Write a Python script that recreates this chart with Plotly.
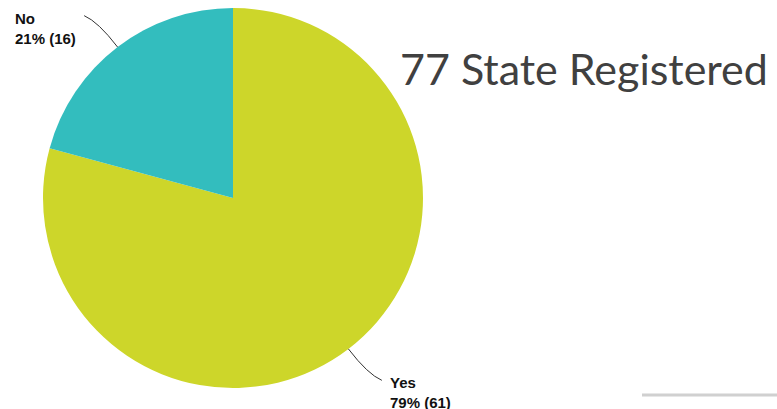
import math
import plotly.graph_objects as go

labels = ["Yes", "No"]
values = [61, 16]
colors = ["#CDD62A", "#33BDBE"]
title_text = "77 State Registered"

W, H = 777, 409
cx, cy, r = 233, 198, 190  # pie geometry in pixels

fig = go.Figure(go.Pie(
    labels=labels, values=values, sort=False, direction="clockwise", rotation=0,
    marker=dict(colors=colors, line=dict(width=0)),
    textinfo="none", hoverinfo="label+percent+value",
    domain=dict(x=[(cx - r) / W, (cx + r) / W], y=[1 - (cy + r) / H, 1 - (cy - r) / H]),
    showlegend=False,
))

def px(x, y):
    return x / W, 1 - y / H

total = sum(values)
start = 0.0
shapes = []
annotations = []
for lab, v in zip(labels, values):
    frac = v / total
    mid = (start + frac / 2) * 2 * math.pi  # clockwise from top
    start += frac
    sx, sy = math.sin(mid), -math.cos(mid)
    ex, ey = cx + r * sx, cy + r * sy
    kx, ky = cx + (r + 32) * sx, cy + (r + 32) * sy
    side = 1 if sx > 0 else -1
    tx, ty = kx + side * 14, ky + (6 if sy > 0 else -6)
    p0, p1, p2 = px(ex, ey), px(kx, ky), px(tx, ty)
    shapes.append(dict(type="path", xref="paper", yref="paper",
                       path=f"M {p0[0]},{p0[1]} Q {p1[0]},{p1[1]} {p2[0]},{p2[1]}",
                       line=dict(color="#333333", width=1)))
    pct = round(100 * frac)
    ax, ay = px(tx + (6 if side > 0 else -6), ty - 8)
    annotations.append(dict(
        x=ax, y=ay, xref="paper", yref="paper",
        text=f"<b>{lab}<br>{pct}% ({v})</b>", showarrow=False, align="left",
        xanchor="left" if side > 0 else "right", yanchor="top",
        font=dict(family="Liberation Sans, Arial", size=15, color="#111111"),
    ))

annotations.append(dict(
    x=px(398, 0)[0], y=px(0, 68)[1], xref="paper", yref="paper",
    text=title_text, showarrow=False, xanchor="left", yanchor="middle",
    font=dict(family="Lato, Open Sans", size=43, color="#404040"),
))

shapes.append(dict(type="line", xref="paper", yref="paper",
                   x0=px(642, 0)[0], x1=1, y0=px(0, 395)[1], y1=px(0, 395)[1],
                   line=dict(color="#D0D0D0", width=3)))

fig.update_layout(width=W, height=H, margin=dict(l=0, r=0, t=0, b=0),
                  paper_bgcolor="white", plot_bgcolor="white",
                  shapes=shapes, annotations=annotations)
fig.write_html("out.html", config={"displayModeBar": False},
               post_script="document.body.style.margin='0';document.body.style.overflow='hidden';")
